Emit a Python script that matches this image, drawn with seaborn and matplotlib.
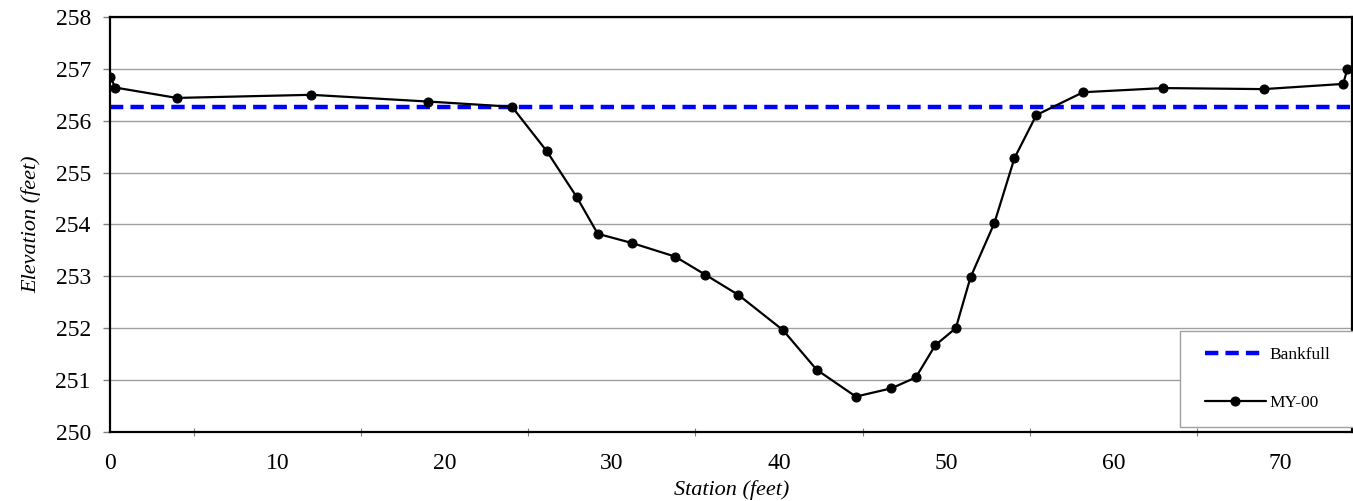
import matplotlib
matplotlib.use("Agg")
import matplotlib.pyplot as plt
import matplotlib.ticker as mtick
from matplotlib.patches import Rectangle
import seaborn as sns
import pandas as pd

# Cross-section survey (MY-00)
station = [0.0, 0.30, 3.98, 12.02, 19.02, 24.03, 26.12, 27.92, 29.16, 31.23,
           33.79, 35.60, 37.58, 40.25, 42.25, 44.60, 46.73, 48.19, 49.35, 50.58,
           51.46, 52.89, 54.09, 55.40, 58.20, 63.00, 69.00, 73.75, 74.00]
elevation = [256.85, 256.64, 256.44, 256.50, 256.37, 256.27, 255.41, 254.52, 253.82, 253.64,
             253.38, 253.03, 252.64, 251.96, 251.20, 250.68, 250.84, 251.05, 251.67, 252.00,
             252.98, 254.03, 255.28, 256.11, 256.55, 256.63, 256.61, 256.71, 256.99]

bankfull_station = [0.0, 74.3]
bankfull_elev = [256.26, 256.26]

sns.set_style("white")
plt.rcParams["font.family"] = ["Liberation Serif", "DejaVu Serif"]
plt.rcParams.update({
    "text.color": "black",
    "axes.labelcolor": "black",
    "xtick.labelcolor": "black",
    "ytick.labelcolor": "black",
})

survey = pd.DataFrame({"station": station, "elevation": elevation})
bank = pd.DataFrame({"station": bankfull_station, "elevation": bankfull_elev})

fig = plt.figure(figsize=(13.53, 5.01), dpi=100)
ax = fig.add_axes([0.0815, 0.138, 0.918, 0.828])

ax.grid(axis="y", color="#a0a0a0", linewidth=1)
ax.set_axisbelow(True)

sns.lineplot(data=bank, x="station", y="elevation", ax=ax, color="#0000ff",
             linewidth=3.2, linestyle=(0, (3, 1.6)), label="Bankfull")
sns.lineplot(data=survey, x="station", y="elevation", ax=ax, sort=False,
             color="black", linewidth=1.6, marker="o", markersize=6.5,
             markeredgecolor="black", label="MY-00")

ax.set_xlim(0, 74.3)
ax.set_ylim(250, 258)
ax.xaxis.set_major_locator(mtick.MultipleLocator(10))
ax.xaxis.set_minor_locator(mtick.MultipleLocator(5))
ax.yaxis.set_major_locator(mtick.MultipleLocator(1))

ax.tick_params(axis="x", which="major", direction="inout", length=9, width=1,
               color="#808080", labelsize=17, pad=11)
ax.tick_params(axis="x", which="minor", direction="inout", length=6, width=0.8,
               color="#808080", bottom=True)
ax.tick_params(axis="y", which="major", direction="out", length=5, width=1,
               color="#808080", labelsize=17, pad=9, left=True)

for s in ax.spines.values():
    s.set_color("black")
    s.set_linewidth(1.6)

ax.set_xlabel("Station (feet)", fontsize=16, style="italic", labelpad=4)
ax.set_ylabel("Elevation (feet)", fontsize=16, style="italic", labelpad=10)

# legend box sits flush with the lower right corner
ax.add_patch(Rectangle((0.861, 0.012), 0.145, 0.231, transform=ax.transAxes,
                       facecolor="white", edgecolor="#a0a0a0", linewidth=1,
                       clip_on=False, zorder=4))
leg = ax.legend(loc="center", bbox_to_anchor=(0.9316, 0.1277), fontsize=12.5,
                frameon=False, labelspacing=1.8, handlelength=3.5,
                handletextpad=0.2, borderpad=0)
leg.set_zorder(5)

fig.savefig("out.png", dpi=100)
